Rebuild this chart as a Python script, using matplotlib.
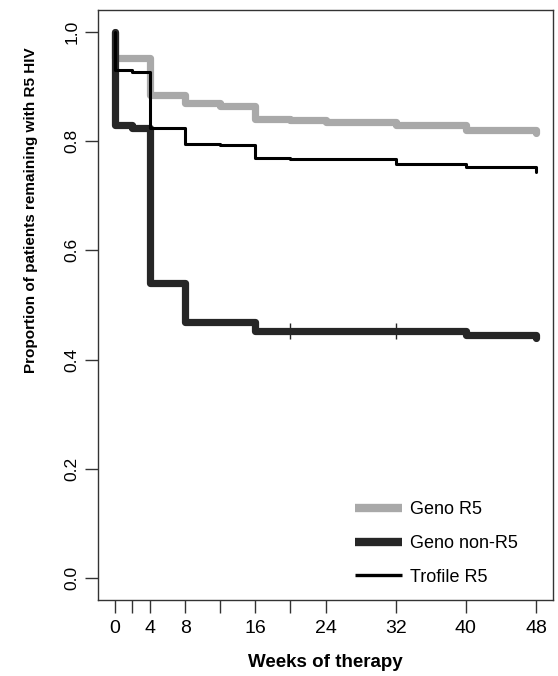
import matplotlib
matplotlib.use("Agg")
from matplotlib import pyplot as plt

plt.rcParams['font.family'] = ['Liberation Sans', 'DejaVu Sans']

# Kaplan-Meier style step data (weeks, proportion)
geno_r5_t = [0, 0, 4, 8, 12, 16, 20, 24, 32, 40, 48]
geno_r5_y = [1.0, 0.952, 0.885, 0.869, 0.864, 0.840, 0.838, 0.835, 0.829, 0.820, 0.814]

geno_non_t = [0, 0, 2, 4, 8, 16, 40, 48]
geno_non_y = [1.0, 0.830, 0.824, 0.540, 0.469, 0.452, 0.445, 0.439]
geno_non_cens_t = [20, 32]
geno_non_cens_y = [0.452, 0.452]

trofile_t = [0, 0, 2, 4, 8, 12, 16, 20, 32, 40, 48]
trofile_y = [1.0, 0.930, 0.927, 0.824, 0.795, 0.792, 0.770, 0.767, 0.759, 0.752, 0.744]

x_ticks = [0, 2, 4, 8, 12, 16, 20, 24, 32, 40, 48]
x_labels = ['0', '', '4', '8', '', '16', '', '24', '32', '40', '48']
y_ticks = [0.0, 0.2, 0.4, 0.6, 0.8, 1.0]

fig = plt.figure(figsize=(5.58, 6.76), dpi=100)
ax = fig.add_axes([98 / 558, 76 / 676, 455 / 558, 590 / 676])

ax.step(geno_r5_t, geno_r5_y, where='post', color='#a9a9a9', lw=5.2,
        solid_capstyle='round', solid_joinstyle='round', label='Geno R5')
ax.step(geno_non_t, geno_non_y, where='post', color='#262626', lw=5.2,
        solid_capstyle='round', solid_joinstyle='round', label='Geno non-R5')
ax.plot(geno_non_cens_t, geno_non_cens_y, ls='none', marker='|', ms=12,
        mew=1, color='#262626')
ax.step(trofile_t, trofile_y, where='post', color='black', lw=2.2,
        solid_capstyle='round', solid_joinstyle='round', label='Trofile R5')

ax.set_xlim(-1.92, 49.92)
ax.set_ylim(-0.04, 1.04)
ax.set_xticks(x_ticks)
ax.set_xticklabels(x_labels, fontsize=14)
ax.set_yticks(y_ticks)
ax.set_yticklabels(['0.0', '0.2', '0.4', '0.6', '0.8', '1.0'], fontsize=12.5,
                   rotation=90, va='center')
ax.tick_params(direction='out', length=9.5, width=1, color='#333333')
ax.tick_params(axis='x', pad=5)
ax.tick_params(axis='y', pad=4)
for s in ax.spines.values():
    s.set_color('#333333')
    s.set_linewidth(1)

ax.set_xlabel('Weeks of therapy', fontsize=13.5, fontweight='bold')
ax.set_ylabel('Proportion of patients remaining with R5 HIV', fontsize=11,
              fontweight='bold')
ax.yaxis.set_label_coords(-0.132, 0.66)
ax.xaxis.set_label_coords(0.5, -0.092)

leg = ax.legend(loc='lower left', bbox_to_anchor=(0.53, -0.003), frameon=False,
                fontsize=13, handlelength=2.6, handletextpad=0.45,
                labelspacing=0.92)
for h in leg.get_lines():
    h.set_solid_capstyle('butt')
leg.get_lines()[0].set_linewidth(6)
leg.get_lines()[1].set_linewidth(6)
leg.get_lines()[2].set_linewidth(2.4)

fig.savefig('out.png', dpi=100)
